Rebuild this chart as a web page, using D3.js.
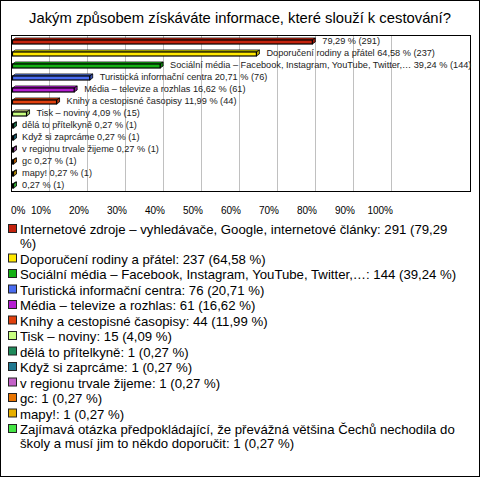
<!DOCTYPE html>
<html>
<head>
<meta charset="utf-8">
<script src="https://cdn.jsdelivr.net/npm/d3@7"></script>
<style>
  body { margin: 0; background: #fff; }
  svg { display: block; font-family: "Liberation Sans", Arial, sans-serif; }
</style>
</head>
<body>
<div class="container"></div>
<script>
const title = 'Jakým způsobem získáváte informace, které slouží k cestování?';

const categories = [
  'Internetové zdroje – vyhledávače, Google, internetové články',
  'Doporučení rodiny a přátel',
  'Sociální média – Facebook, Instagram, YouTube, Twitter,…',
  'Turistická informační centra',
  'Média – televize a rozhlas',
  'Knihy a cestopisné časopisy',
  'Tisk – noviny',
  'dělá to přítelkyně',
  'Když si zaprcáme',
  'v regionu trvale žijeme',
  'gc',
  'mapy!',
  'Zajímavá otázka předpokládající, že převážná většina Čechů nechodila do školy a musí jim to někdo doporučit'
];
// bar label names (the two long ones are left out on the bars)
const barNames = [
  '', 'Doporučení rodiny a přátel', 'Sociální média – Facebook, Instagram, YouTube, Twitter,…',
  'Turistická informační centra', 'Média – televize a rozhlas', 'Knihy a cestopisné časopisy',
  'Tisk – noviny', 'dělá to přítelkyně', 'Když si zaprcáme', 'v regionu trvale žijeme',
  'gc', 'mapy!', ''
];
const counts = [291, 237, 144, 76, 61, 44, 15, 1, 1, 1, 1, 1, 1];
const percents = [79.29, 64.58, 39.24, 20.71, 16.62, 11.99, 4.09, 0.27, 0.27, 0.27, 0.27, 0.27, 0.27];
const colors = ['#c4230d', '#ffe800', '#14b014', '#4a6cf0', '#b41ed2', '#e0400e', '#c8ff80',
  '#1f8a5a', '#1f7890', '#c462c8', '#e87400', '#e8b000', '#44e444'];
const ticks = [0, 10, 20, 30, 40, 50, 60, 70, 80, 90, 100];

const w = 480, h = 477;
const fmt = v => v.toFixed(2).replace('.', ',');

const svg = d3.select('.container')
  .append('svg')
  .attr('width', w)
  .attr('height', h);

svg.append('rect')
  .attr('x', 0.5).attr('y', 0.5)
  .attr('width', w - 1).attr('height', h - 1)
  .attr('fill', '#fff').attr('stroke', '#000');

svg.append('text')
  .attr('x', 240).attr('y', 23)
  .attr('text-anchor', 'middle')
  .attr('font-size', 14.8)
  .text(title);

// plot area
const pLeft = 11, pRight = 470, pTop = 35, pBottom = 191;

const xScale = d3.scaleLinear().domain([0, 100]).range([pLeft, pLeft + 380]);
const yScale = d3.scaleBand().domain(d3.range(categories.length)).range([pTop, pBottom]);

svg.selectAll('line.grid')
  .data(ticks.slice(1))
  .enter()
  .append('line')
  .attr('class', 'grid')
  .attr('x1', d => Math.round(xScale(d)) + 0.5)
  .attr('x2', d => Math.round(xScale(d)) + 0.5)
  .attr('y1', pTop).attr('y2', pBottom)
  .attr('stroke', '#c0c0c0');

svg.append('rect')
  .attr('x', pLeft + 0.5).attr('y', pTop + 0.5)
  .attr('width', pRight - pLeft).attr('height', pBottom - pTop)
  .attr('fill', 'none').attr('stroke', '#000');

svg.selectAll('text.tick')
  .data(ticks)
  .enter()
  .append('text')
  .attr('class', 'tick')
  .attr('x', d => d == 0 ? xScale(d) : xScale(d) + 2)
  .attr('y', 214)
  .attr('text-anchor', d => d == 0 ? 'start' : 'end')
  .attr('font-size', 10)
  .text(d => d + '%');

// 3d bars
const dx = 3, dy = 2, bh = 4;
const bars = svg.selectAll('g.bar')
  .data(percents)
  .enter()
  .append('g')
  .attr('class', 'bar');

bars.each(function(d, i) {
  const g = d3.select(this);
  const x0 = xScale(0) + 1.5;
  const x1 = Math.max(xScale(d), x0 + 1);
  const c = yScale(i) + yScale.bandwidth() / 2;
  const y0 = c - 1, y1 = c - 1 + bh;
  const col = d3.color(colors[i]);
  g.append('polygon')
    .attr('points', [[x0, y0], [x0 + dx, y0 - dy], [x1 + dx, y0 - dy], [x1, y0]].join(' '))
    .attr('fill', col.brighter(0.6))
    .attr('stroke', '#000').attr('stroke-width', 0.8);
  g.append('polygon')
    .attr('points', [[x1, y0], [x1 + dx, y0 - dy], [x1 + dx, y1 - dy], [x1, y1]].join(' '))
    .attr('fill', col.darker(0.8))
    .attr('stroke', '#000').attr('stroke-width', 0.8);
  g.append('rect')
    .attr('x', x0).attr('y', y0)
    .attr('width', x1 - x0).attr('height', bh)
    .attr('fill', colors[i])
    .attr('stroke', '#000').attr('stroke-width', 1.2);
  g.append('text')
    .attr('x', xScale(d) + 10)
    .attr('y', c + 3)
    .attr('font-size', 9.2)
    .attr('fill', '#222')
    .text((barNames[i] ? barNames[i] + ' ' : '') + fmt(d) + ' % (' + counts[i] + ')');
});

// legend
const legendX = 20, rowGap = 15.5, lineGap = 14;
// wrap limit: the longest one-line entry (Sociální média…) still has to fit
const probe = svg.append('text').attr('font-size', 13.2)
  .text(categories[2] + ': ' + counts[2] + ' (' + fmt(percents[2]) + ' %)');
const maxW = probe.node().getComputedTextLength() + 1;
probe.remove();

let ly = 234;
categories.forEach((name, i) => {
  const label = name + ': ' + counts[i] + ' (' + fmt(percents[i]) + ' %)';
  svg.append('rect')
    .attr('x', 8.5).attr('y', ly - 9.5)
    .attr('width', 8).attr('height', 8)
    .attr('fill', colors[i])
    .attr('stroke', '#222');
  const t = svg.append('text')
    .attr('x', legendX).attr('y', ly)
    .attr('font-size', 13.2);
  const words = label.split(' ');
  let line = [], tspan = t.append('tspan').attr('x', legendX).attr('y', ly);
  let lines = 1;
  words.forEach(wd => {
    line.push(wd);
    tspan.text(line.join(' '));
    if (tspan.node().getComputedTextLength() > maxW && line.length > 1) {
      line.pop();
      tspan.text(line.join(' '));
      line = [wd];
      tspan = t.append('tspan').attr('x', legendX).attr('y', ly + lines * lineGap).text(wd);
      lines++;
    }
  });
  ly += (lines - 1) * lineGap + rowGap;
});
</script>
</body>
</html>
